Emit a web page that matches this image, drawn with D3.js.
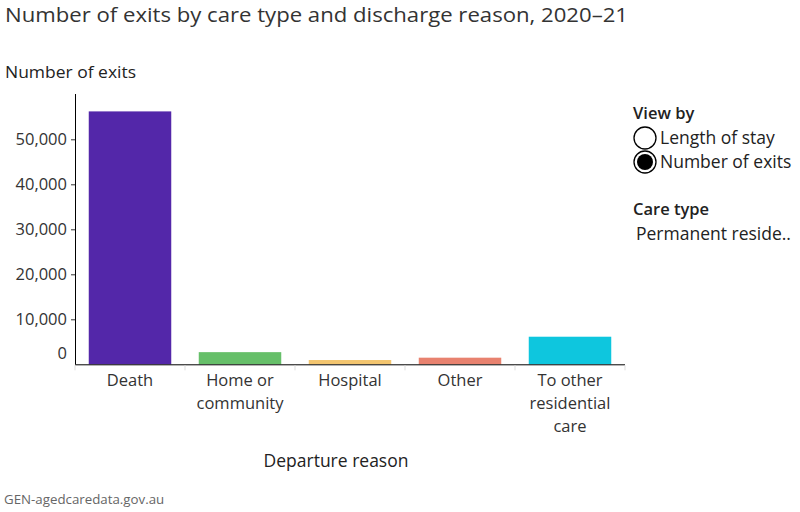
<!DOCTYPE html>
<html><head><meta charset="utf-8">
<script src="https://cdn.jsdelivr.net/npm/d3@7"></script>
<style>body{margin:0;background:#fff;} svg{display:block;} text{font-family:"Open Sans","Noto Sans",sans-serif;}</style>
</head><body><svg id="c" width="800" height="512"></svg>
<script>
const categories = ["Death","Home or community","Hospital","Other","To other residential care"];
const categoryLines = [["Death"],["Home or","community"],["Hospital"],["Other"],["To other","residential","care"]];
const exits = [56200, 2700, 950, 1470, 6130];
const colors = ["#5327a9","#66bf69","#f3c56f","#e8826f","#0ec6de"];
const yTicks = [0,10000,20000,30000,40000,50000];

const svg = d3.select("#c");
const x0=75, x1=625, yBase=364.3, yTop=94;
const x = d3.scaleBand().domain(categories).range([x0,x1]).paddingInner(0.25).paddingOuter(0.125);
const y = d3.scaleLinear().domain([0,60000]).range([yBase, yBase-270]);

svg.append("text").attr("x",5).attr("y",22).attr("font-size",19.5).attr("fill","#333")
  .attr("textLength",623).attr("lengthAdjust","spacingAndGlyphs")
  .text("Number of exits by care type and discharge reason, 2020–21");
svg.append("text").attr("x",5).attr("y",78).attr("font-size",15.5).attr("font-weight",500).attr("fill","#222")
  .attr("textLength",131).attr("lengthAdjust","spacingAndGlyphs").text("Number of exits");

// bars
svg.selectAll("rect.bar").data(categories).join("rect").attr("class","bar")
  .attr("x",d=>x(d)).attr("width",x.bandwidth())
  .attr("y",(d,i)=>y(exits[i])).attr("height",(d,i)=>yBase-y(exits[i]))
  .attr("fill",(d,i)=>colors[i]);

// y axis
const yAxis = d3.axisLeft(y).tickValues(yTicks).tickSize(4).tickFormat(d3.format(","));
const gy = svg.append("g").attr("transform",`translate(${x0},0)`).call(yAxis);
gy.select(".domain").remove();
gy.selectAll(".tick line").attr("stroke","#333").filter(d=>d===0).remove();
gy.selectAll(".tick text").attr("font-size",16.5).attr("fill","#333").attr("x",-8)
  .attr("font-family","Open Sans, sans-serif")
  .attr("dy",d=>d===0? "-0.35em":"0.32em");
svg.append("line").attr("x1",x0+0.5).attr("x2",x0+0.5).attr("y1",yTop).attr("y2",yBase).attr("stroke","#000");

// x axis
svg.append("line").attr("x1",x0).attr("x2",x1).attr("y1",yBase+0.5).attr("y2",yBase+0.5).attr("stroke","#000");
const seps = d3.range(categories.length+1).map(i=>x0+i*x.step());
svg.selectAll("line.sep").data(seps).join("line").attr("class","sep")
  .attr("x1",d=>d).attr("x2",d=>d).attr("y1",yBase+1).attr("y2",yBase+6).attr("stroke","#ddd");
const gx = svg.selectAll("g.xl").data(categories).join("g").attr("class","xl")
  .attr("transform",d=>`translate(${x(d)+x.bandwidth()/2},0)`);
gx.each(function(d,i){
  d3.select(this).selectAll("text").data(categoryLines[i]).join("text")
    .attr("x",0).attr("y",(t,j)=>386+j*23).attr("text-anchor","middle")
    .attr("font-size",16.5).attr("fill","#333").text(t=>t);
});
svg.append("text").attr("x",336).attr("y",467).attr("text-anchor","middle").attr("font-size",17.5)
  .attr("fill","#222").text("Departure reason");

// legend
svg.append("text").attr("x",633).attr("y",119).attr("font-size",16.5).attr("font-weight",600).attr("fill","#222").text("View by");
const opts = ["Length of stay","Number of exits"];
opts.forEach((o,i)=>{
  const cy = 138+i*24;
  svg.append("circle").attr("cx",645).attr("cy",cy).attr("r",11).attr("fill","#fff").attr("stroke","#000").attr("stroke-width",1.3);
  if(i===1) svg.append("circle").attr("cx",645).attr("cy",cy).attr("r",8).attr("fill","#000");
  svg.append("text").attr("x",660).attr("y",cy+6).attr("font-size",17.5).attr("fill","#222").text(o);
});
svg.append("text").attr("x",633).attr("y",215).attr("font-size",16.5).attr("font-weight",600).attr("fill","#222").text("Care type");
svg.append("text").attr("x",636).attr("y",240).attr("font-size",17.5).attr("fill","#222").text("Permanent reside..");

svg.append("text").attr("x",4).attr("y",504).attr("font-size",13.3).attr("fill","#666").text("GEN-agedcaredata.gov.au");
</script></body></html>
